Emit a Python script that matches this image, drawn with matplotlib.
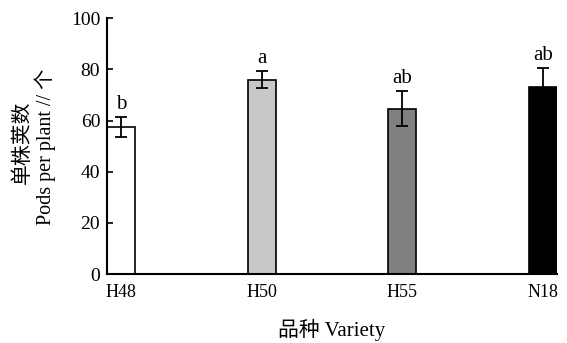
import numpy as np
import matplotlib.pyplot as plt

varieties = ['H48', 'H50', 'H55', 'N18']
pods = [57.5, 76.0, 64.7, 73.2]
pods_err = [4.0, 3.2, 7.0, 7.2]
letters = ['b', 'a', 'ab', 'ab']
colors = ['#ffffff', '#c8c8c8', '#808080', '#000000']

plt.rcParams['font.family'] = ['Liberation Serif', 'Noto Sans CJK SC']

fig = plt.figure(figsize=(5.67, 3.43), dpi=100)
ax = fig.add_axes([0.189, 0.201, 0.793, 0.746])

x = np.arange(len(varieties))
ax.bar(x, pods, width=0.2, color=colors, edgecolor='#000000', linewidth=1.2,
       yerr=pods_err, capsize=4, error_kw={'elinewidth': 1.3, 'capthick': 1.3})

for xi, v, e, t in zip(x, pods, pods_err, letters):
    ax.text(xi, v + e + 1.2, t, ha='center', va='bottom', fontsize=15)

ax.set_xlim(-0.1, 3.1)
ax.set_ylim(0, 100)
ax.set_yticks(np.arange(0, 101, 20))
ax.set_xticks(x)
ax.set_xticklabels(varieties)

ax.spines['top'].set_visible(False)
ax.spines['right'].set_visible(False)
ax.spines['left'].set_linewidth(1.5)
ax.spines['bottom'].set_linewidth(1.5)
ax.tick_params(axis='y', direction='in', length=4, width=1.2, labelsize=14, pad=5)
ax.tick_params(axis='x', length=0, labelsize=13, pad=7)

ax.set_xlabel('品种 Variety', fontsize=15, labelpad=13)
fig.text(0.041, 0.585, '单株荚数', rotation=90, ha='center', va='center', fontsize=15)
fig.text(0.080, 0.571, 'Pods per plant // 个', rotation=90, ha='center', va='center', fontsize=14.5)

plt.savefig('out.png', dpi=100)
